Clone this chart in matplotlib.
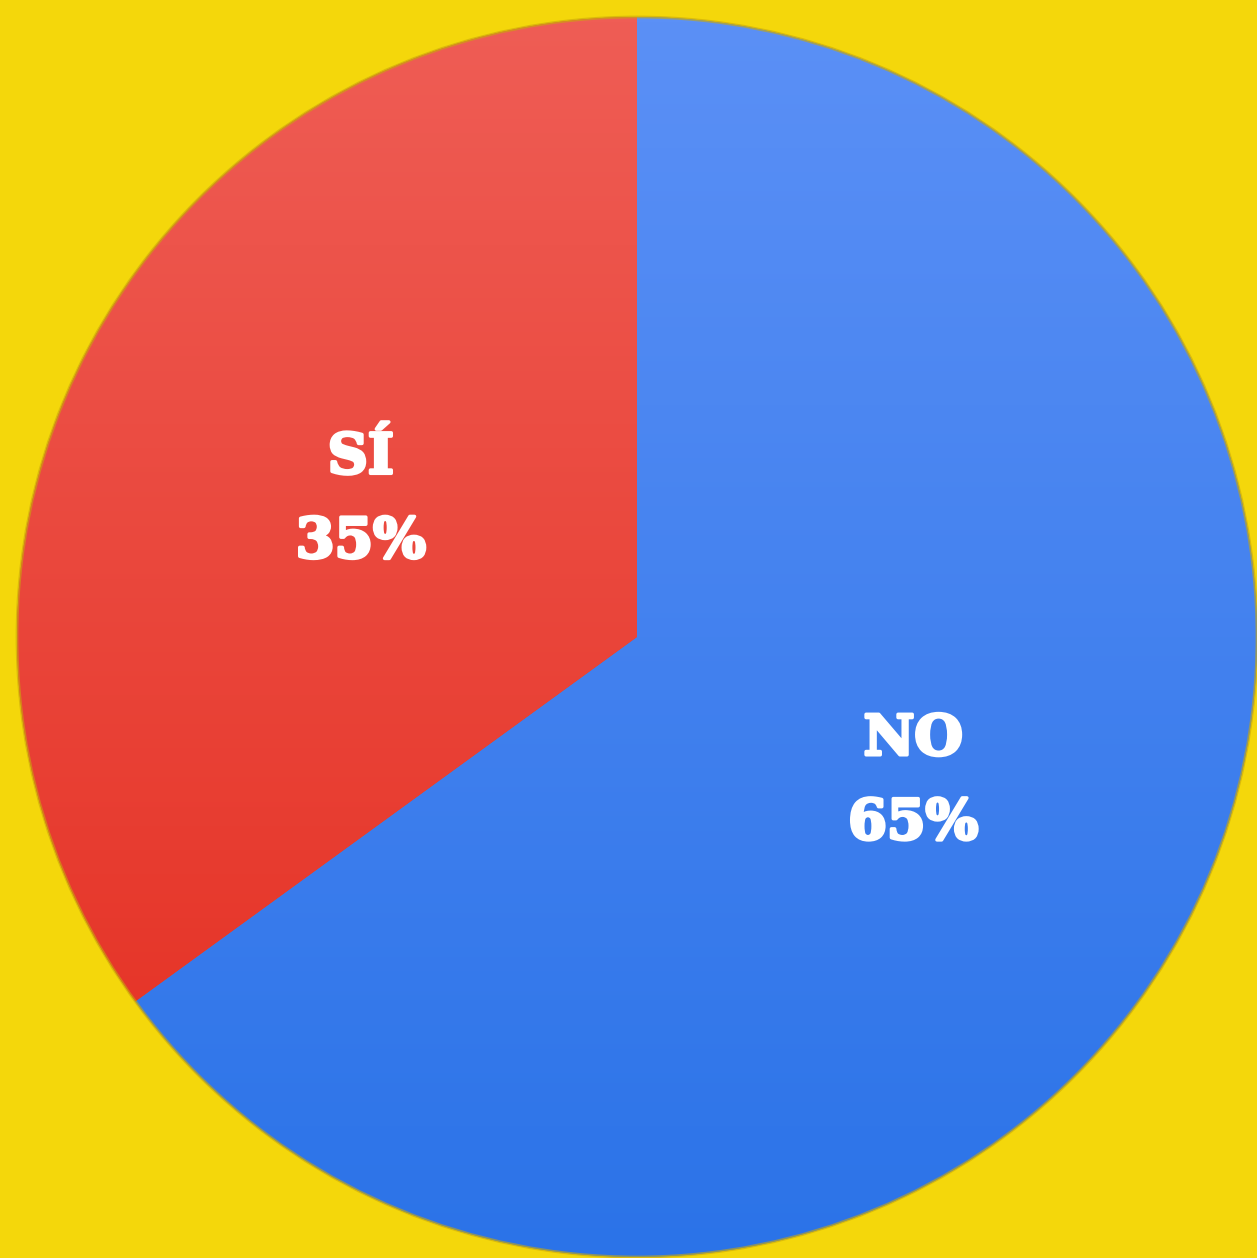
import numpy as np
import matplotlib
matplotlib.use("Agg")
import matplotlib.pyplot as plt
import matplotlib.patheffects as pe
from matplotlib.colors import LinearSegmentedColormap

labels = ["NO", "SÍ"]
values = [65, 35]
top_colors = ["#5b90f6", "#ef5d55"]
bottom_colors = ["#2b73e8", "#e42c1e"]

fig = plt.figure(figsize=(12.57, 12.58), dpi=100)
fig.patch.set_facecolor("#f4d70b")
ax = fig.add_axes([0, 0, 1, 1])
ax.set_facecolor("#f4d70b")

wedges, _ = ax.pie(values, startangle=90, counterclock=False, radius=1.0,
                   colors=bottom_colors,
                   wedgeprops=dict(linewidth=0))

# vertical gradient fill clipped to each wedge
grad = np.linspace(0, 1, 256).reshape(-1, 1)
for w, ct, cb in zip(wedges, top_colors, bottom_colors):
    cmap = LinearSegmentedColormap.from_list("g", [cb, ct])
    im = ax.imshow(grad, cmap=cmap, extent=(-1.05, 1.05, -1.0, 1.0),
                   origin="lower", aspect="auto", zorder=w.get_zorder() + 0.1)
    im.set_clip_path(w)

# subtle outline of the pie
circ = plt.Circle((0, 0), 1.0, fill=False, edgecolor="#c9a80a", linewidth=2, alpha=0.6, zorder=5)
ax.add_patch(circ)

stroke = [pe.withStroke(linewidth=2.5, foreground="white")]
total = sum(values)
start = 90.0
for lab, v in zip(labels, values):
    sweep = 360.0 * v / total
    mid = np.deg2rad(start - sweep / 2)
    r = 0.5
    x, y = r * np.cos(mid), r * np.sin(mid)
    ax.text(x, y + 0.062, lab, ha="center", va="center", color="white",
            fontsize=40, fontweight="bold", family="DejaVu Serif", zorder=6,
            path_effects=stroke)
    ax.text(x, y - 0.074, f"{v}%", ha="center", va="center", color="white",
            fontsize=40, fontweight="bold", family="DejaVu Serif", zorder=6,
            path_effects=stroke)
    start -= sweep

ax.set_xlim(-637 / 620, 620 / 620)
ax.set_ylim(-621 / 620, 637 / 620)
ax.set_aspect("auto")
ax.axis("off")

fig.savefig("out.png", dpi=100, facecolor=fig.get_facecolor())
